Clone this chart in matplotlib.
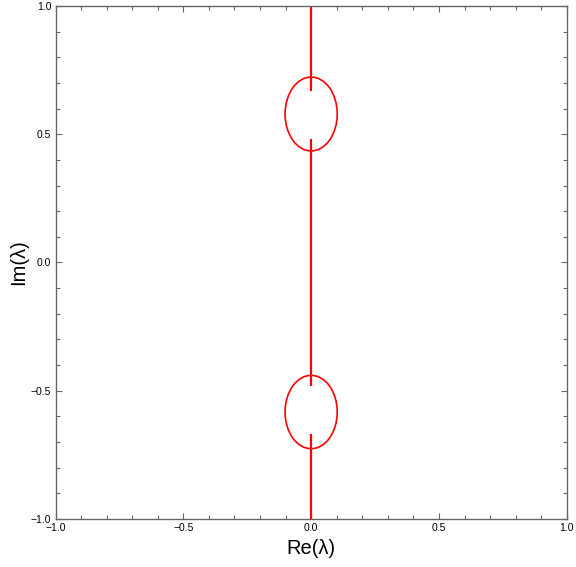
import matplotlib
matplotlib.use("Agg")
import matplotlib.pyplot as plt
from matplotlib.patches import Ellipse
from matplotlib.ticker import MultipleLocator

plt.rcParams['font.family'] = ['Liberation Sans', 'DejaVu Sans']

# vertical pieces of the spectrum on the imaginary axis (Im ranges)
line_segments = [(0.670, 1.0), (-0.481, 0.481), (-1.0, -0.670)]
# loops: (center Re, center Im, width, height)
loops = [(0.0, 0.579, 0.204, 0.288), (0.0, -0.583, 0.204, 0.286)]
major_ticks = [-1.0, -0.5, 0.0, 0.5, 1.0]
tick_labels = ["\u22121.0", "\u22120.5", "0.0", "0.5", "1.0"]

fig = plt.figure(figsize=(5.76, 5.67), dpi=100)
ax = fig.add_axes([0.0964, 0.0847, 0.8876, 0.9047])

for lo, hi in line_segments:
    ax.plot([0, 0], [lo, hi], color="#ff0000", lw=1.6, solid_capstyle="butt")
for cx, cy, w, h in loops:
    ax.add_patch(Ellipse((cx, cy), w, h, fill=False, edgecolor="#ff0000", lw=1.2))

ax.set_xlim(-1, 1)
ax.set_ylim(-1, 1)
ax.set_xticks(major_ticks)
ax.set_xticklabels(tick_labels)
ax.set_yticks(major_ticks)
ax.set_yticklabels(tick_labels)
ax.xaxis.set_minor_locator(MultipleLocator(0.1))
ax.yaxis.set_minor_locator(MultipleLocator(0.1))
ax.tick_params(which="both", direction="in", top=True, right=True, color="#666666",
               labelsize=7.5, pad=3)
ax.tick_params(which="major", length=4, width=0.8)
ax.tick_params(which="minor", length=3, width=0.8)
for s in ax.spines.values():
    s.set_color("#666666")
    s.set_linewidth(1.0)

ax.set_xlabel("Re(\u03bb)", fontsize=14.5, labelpad=4)
ax.set_ylabel("Im(\u03bb)", fontsize=14.5, labelpad=2)

fig.savefig("out.png", dpi=100)
